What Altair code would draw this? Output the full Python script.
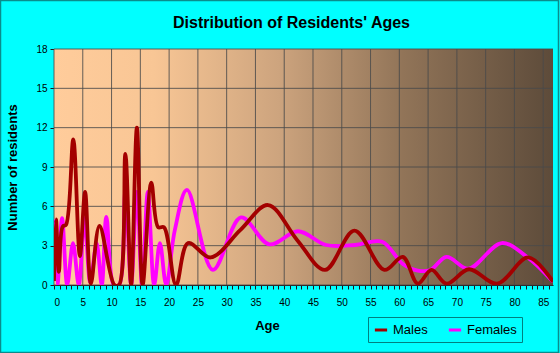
import altair as alt
import pandas as pd

# ---- data ----
title_text = "Distribution of Residents' Ages"
series_names = ["Males", "Females"]
series_colors = ["#A30000", "#FF00FF"]

male_age = [0, 0.35, 0.85, 1.5, 2.1, 3.35, 4.5, 5.4, 6.4, 7.9, 10.5, 11.3, 12.4, 13.4,
            14.4, 15.4, 16.9, 18.1, 19.1, 21.2, 23.3, 27.2, 32.4, 37.2, 42.3, 47.1,
            52.2, 57.4, 60.6, 63.2, 65.6, 68.2, 72.1, 77.0, 82.4, 86.7]
male_val = [0.3, 5.0, 1.0, 4.45, 4.6, 11.1, 2.2, 7.1, 0.1, 4.5, 0.0, 0.0, 10.0, 0.0,
            12.0, 0.0, 7.8, 4.4, 4.4, 0.0, 3.2, 2.1, 4.2, 6.1, 3.4, 1.15,
            4.15, 1.15, 2.15, 0.1, 1.15, 0.1, 1.2, 0.1, 2.1, 0.25]

female_age = [0, 0.6, 1.4, 2.3, 3.3, 4.3, 5.3, 6.3, 7.4, 8.3, 9.1, 10.4, 11.3, 12.4,
              13.4, 14.4, 15.3, 16.3, 17.4, 18.4, 19.5, 21.0, 23.1, 27.6, 32.5, 37.4,
              42.4, 47.3, 52.3, 57.0, 60.6, 63.2, 65.4, 68.2, 72.0, 77.8, 82.3, 86.7]
female_val = [5.0, 0.0, 5.1, 0.0, 3.2, 0.0, 5.1, 0.2, 3.2, 0.0, 5.2, 0.0, 0.0, 7.1,
              0.0, 7.1, 0.0, 7.1, 0.0, 3.2, 0.0, 4.2, 7.25, 1.15, 5.15, 3.1,
              4.1, 3.05, 3.05, 3.3, 1.6, 1.1, 1.15, 2.15, 1.25, 3.2, 2.1, 0.25]

x_ticks = list(range(0, 87))
x_grid = list(range(0, 90, 5))
y_ticks = [0, 3, 6, 9, 12, 15, 18]

males = pd.DataFrame({"age": male_age, "residents": male_val, "sex": "Males"})
females = pd.DataFrame({"age": female_age, "residents": female_val, "sex": "Females"})
xgrid_df = pd.DataFrame({"v": x_grid})
ygrid_df = pd.DataFrame({"v": y_ticks})

W, H = 499, 236
X_MAX = 86.7
FONT = "Liberation Sans"

x_scale = alt.Scale(domain=[0, X_MAX], nice=False, zero=False)
y_scale = alt.Scale(domain=[0, 18], nice=False)
color_scale = alt.Scale(domain=series_names, range=series_colors)

x_axis = alt.Axis(values=x_ticks, labelExpr="datum.value % 5 === 0 ? datum.label : ''",
                  labelOverlap=False, title="Age", grid=False, tickSize=4,
                  labelPadding=8, labelFontSize=10, labelFont=FONT, labelColor="#000",
                  tickColor="#1a1a1a", domainColor="#1a1a1a",
                  titleFont=FONT, titleFontSize=13, titleFontWeight="bold",
                  titleColor="#000", titleX=213, titleY=44, titleBaseline="alphabetic")
y_axis = alt.Axis(values=y_ticks, title="Number of residents", grid=False, tickSize=4,
                  labelPadding=3, labelFontSize=10, labelFont=FONT, labelColor="#000",
                  tickColor="#1a1a1a", domainColor="#1a1a1a",
                  titleFont=FONT, titleFontSize=13, titleFontWeight="bold",
                  titleColor="#000", titleX=-38, titleY=H / 2,
                  titleBaseline="alphabetic", titleAngle=270)

gradient = alt.LinearGradient(
    gradient="linear", x1=0, x2=1, y1=0, y2=0,
    stops=[alt.GradientStop(color="#FFCC9B", offset=0),
           alt.GradientStop(color="#F8C695", offset=0.2),
           alt.GradientStop(color="#CDA47E", offset=0.45),
           alt.GradientStop(color="#917458", offset=0.7),
           alt.GradientStop(color="#5D4B3A", offset=1)])

one = alt.Data(values=[{"a": 1}])

bg = alt.Chart(one).mark_rect(fill=gradient).encode(
    x=alt.value(0), x2=alt.value(W), y=alt.value(0), y2=alt.value(H))

vgrid = alt.Chart(xgrid_df).mark_rule(color="#4a4a4a", strokeWidth=1, opacity=0.85).encode(
    x=alt.X("v:Q", scale=x_scale, axis=x_axis))
hgrid = alt.Chart(ygrid_df).mark_rule(color="#4a4a4a", strokeWidth=1, opacity=0.85).encode(
    y=alt.Y("v:Q", scale=y_scale, axis=y_axis))

legend = alt.Legend(title=None, orient="none", legendX=314, legendY=268,
                    direction="horizontal", strokeColor="#008080", padding=5,
                    symbolType="stroke", symbolStrokeWidth=3, symbolSize=150,
                    labelFont=FONT, labelFontSize=13, labelColor="#000",
                    columnPadding=14, symbolOffset=0, labelOffset=4)


def line_layer(df):
    return alt.Chart(df).mark_line(interpolate="catmull-rom", strokeWidth=3.8, clip=True).encode(
        x=alt.X("age:Q", scale=x_scale, axis=x_axis),
        y=alt.Y("residents:Q", scale=y_scale, axis=y_axis),
        color=alt.Color("sex:N", scale=color_scale, legend=legend),
    )


frame = alt.Chart(one).mark_rect(
    fillOpacity=0, stroke="#0A8C8C", strokeWidth=1.5, clip=False).encode(
    x=alt.value(-53.5), x2=alt.value(W + 5.5), y=alt.value(-48.5), y2=alt.value(H + 67.5))

title = alt.Chart(one).mark_text(
    text=title_text, font=FONT, fontSize=16, fontWeight="bold", color="#000",
    align="center", baseline="alphabetic", clip=False).encode(
    x=alt.value(237.5), y=alt.value(-21))

chart = alt.layer(bg, vgrid, hgrid, line_layer(females), line_layer(males), frame, title).properties(
    width=W, height=H,
    autosize=alt.AutoSizeParams(type="none"),
    padding={"left": 54, "top": 49, "right": 7, "bottom": 68},
    background="#00FFFF",
).configure_view(stroke=None)

chart.save("out.html", embed_options={"renderer": "svg", "actions": False})
